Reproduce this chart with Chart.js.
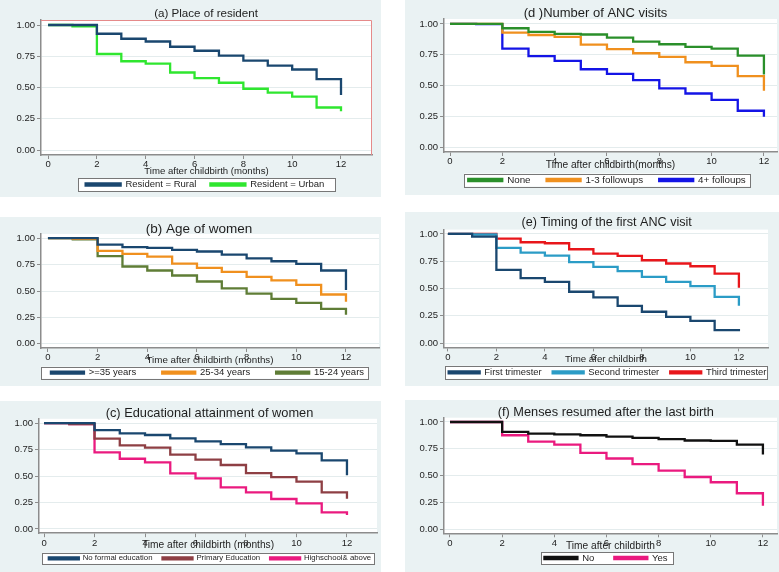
<!DOCTYPE html>
<html>
<head>
<meta charset="utf-8">
<script src="https://cdn.jsdelivr.net/npm/chart.js@4.4.1/dist/chart.umd.min.js"></script>
<style>
  body { margin: 0; width: 779px; height: 572px; background: #fff; position: relative; overflow: hidden; }
  .panel { position: absolute; background: #eaf2f3; }
  .panel canvas { display: block; }
</style>
</head>
<body>
<div class="panel" style="left:0;top:0;width:381px;height:197px"><canvas id="chartA" width="381" height="197"></canvas></div>
<div class="panel" style="left:405px;top:0;width:374px;height:195px"><canvas id="chartD" width="374" height="195"></canvas></div>
<div class="panel" style="left:0;top:217px;width:381px;height:169px"><canvas id="chartB" width="381" height="169"></canvas></div>
<div class="panel" style="left:405px;top:212px;width:374px;height:174px"><canvas id="chartE" width="374" height="174"></canvas></div>
<div class="panel" style="left:0;top:401px;width:381px;height:171px"><canvas id="chartC" width="381" height="171"></canvas></div>
<div class="panel" style="left:405px;top:400px;width:374px;height:172px"><canvas id="chartF" width="374" height="172"></canvas></div>
<script>
// months after childbirth, tick labels
const months = [0, 1, 2, 3, 4, 5, 6, 7, 8, 9, 10, 11, 12];
const xTicks = [0, 2, 4, 6, 8, 10, 12];
const yTicks = [0, 0.25, 0.5, 0.75, 1];

// (a) place of resident
const rural = [1, 1, 0.93, 0.89, 0.868, 0.826, 0.794, 0.755, 0.715, 0.675, 0.644, 0.567, 0.44];
const urban = [1, 0.99, 0.768, 0.71, 0.691, 0.62, 0.575, 0.538, 0.49, 0.459, 0.427, 0.34, 0.31];

// (d) number of ANC visits
const ancNone = [1, 1, 0.965, 0.935, 0.92, 0.914, 0.889, 0.857, 0.835, 0.814, 0.8, 0.743, 0.59];
const anc13 = [1, 1, 0.93, 0.91, 0.895, 0.832, 0.795, 0.762, 0.732, 0.689, 0.659, 0.576, 0.457];
const anc4 = [1, 0.998, 0.8, 0.738, 0.7, 0.632, 0.595, 0.543, 0.476, 0.435, 0.384, 0.295, 0.246];

// (b) age of women
const age35 = [1, 1, 0.94, 0.915, 0.909, 0.89, 0.874, 0.845, 0.81, 0.782, 0.757, 0.694, 0.51];
const age25 = [1, 0.995, 0.88, 0.852, 0.826, 0.76, 0.719, 0.681, 0.634, 0.6, 0.558, 0.467, 0.397];
const age15 = [1, 0.99, 0.83, 0.732, 0.694, 0.647, 0.59, 0.524, 0.476, 0.426, 0.388, 0.331, 0.274];

// (e) timing of the first ANC visit
const tri1 = [1, 0.976, 0.67, 0.595, 0.56, 0.47, 0.418, 0.341, 0.287, 0.24, 0.204, 0.119, 0.107];
const tri2 = [1, 0.995, 0.872, 0.829, 0.802, 0.741, 0.698, 0.659, 0.607, 0.561, 0.521, 0.424, 0.341];
const tri3 = [1, 1, 0.957, 0.924, 0.915, 0.86, 0.82, 0.799, 0.759, 0.729, 0.704, 0.637, 0.506];

// (c) educational attainment
const eduNone = [1, 1, 0.934, 0.903, 0.887, 0.855, 0.827, 0.8, 0.77, 0.739, 0.714, 0.648, 0.506];
const eduPrim = [1, 0.99, 0.852, 0.789, 0.767, 0.701, 0.654, 0.604, 0.528, 0.49, 0.447, 0.346, 0.286];
const eduHigh = [1, 0.99, 0.723, 0.663, 0.629, 0.525, 0.478, 0.393, 0.346, 0.283, 0.242, 0.157, 0.132];

// (f) menses resumed
const mensNo = [1, 1, 0.907, 0.892, 0.885, 0.876, 0.864, 0.851, 0.839, 0.827, 0.824, 0.789, 0.697];
const mensYes = [1, 1, 0.876, 0.817, 0.789, 0.712, 0.659, 0.607, 0.545, 0.486, 0.437, 0.334, 0.217];

const FONT = '"Liberation Sans", Arial, sans-serif';
const TXT = '#1e1e1e';
const AXIS = '#8c8c8c';
const X_AXIS_H = 16;

// white plot region (+ the thin red frame of panel a)
const plotBg = {
  id: 'plotBg',
  beforeDraw(chart, args, opts) {
    const { ctx, chartArea: a } = chart;
    ctx.save();
    ctx.fillStyle = '#fff';
    ctx.fillRect(a.left, a.top, a.width, a.height);
    ctx.restore();
  },
  beforeDatasetsDraw(chart, args, opts) {
    if (!opts.frame) return;
    const { ctx, chartArea: a } = chart;
    ctx.save();
    ctx.strokeStyle = opts.frame;
    ctx.lineWidth = 1;
    ctx.beginPath();
    ctx.moveTo(a.left, a.top + 0.5);
    ctx.lineTo(a.right - 0.5, a.top + 0.5);
    ctx.lineTo(a.right - 0.5, a.bottom);
    ctx.stroke();
    ctx.restore();
  }
};

// move title / legend where stata puts them
const place = {
  id: 'place',
  afterLayout(chart, args, o) {
    const t = chart.titleBlock;
    if (t && o.titleX != null) {
      const dx = o.titleX - (t.left + t.right) / 2;
      t.left += dx; t.right += dx;
    }
    const lg = chart.legend;
    if (lg && o.legendX != null) {
      const dx = o.legendX - (lg.left + lg.right) / 2;
      const dy = o.legendTop - lg.top;
      lg.left += dx; lg.right += dx;
      lg.top += dy; lg.bottom += dy;
    }
  }
};

// box round the legend
const legendBox = {
  id: 'legendBox',
  beforeDraw(chart, args, opts) {
    const lg = chart.legend;
    if (!lg || !lg.legendHitBoxes.length) return;
    const hb = lg.legendHitBoxes;
    const cy = hb[0].top + hb[0].height / 2;
    const l = opts.x0, r = opts.x1, h = opts.h;
    const ctx = chart.ctx;
    ctx.save();
    ctx.fillStyle = '#fff';
    ctx.fillRect(l, cy - h / 2, r - l, h);
    ctx.strokeStyle = '#777';
    ctx.lineWidth = 1;
    ctx.strokeRect(Math.round(l) + 0.5, Math.round(cy - h / 2) + 0.5, Math.round(r - l), Math.round(h));
    ctx.restore();
  }
};

function kmChart(id, g, title, xTitle, labels, series, colors) {
  const titleLH = g.titleSize * 1.2;
  const xtLH = g.xtSize * 1.2;
  const legendH = g.legendSize + g.legendPad + 10;
  const axisBottom = g.bottom + X_AXIS_H;
  new Chart(document.getElementById(id), {
    type: 'line',
    data: {
      datasets: series.map((s, i) => ({
        label: labels[i],
        data: months.map((m, j) => ({ x: m, y: s[j] })),
        borderColor: colors[i],
        backgroundColor: colors[i],
        borderWidth: 2.3,
        pointRadius: 0,
        stepped: true,
        fill: false
      }))
    },
    options: {
      responsive: false,
      animation: false,
      layout: { padding: { left: 0, right: g.w - g.right, top: 0, bottom: g.h - axisBottom - legendH } },
      plugins: {
        title: {
          display: true, text: title, color: TXT,
          font: { family: FONT, size: g.titleSize, weight: 'normal' },
          padding: { top: g.titleY - titleLH / 2, bottom: g.top - g.titleY - titleLH / 2 }
        },
        legend: {
          position: 'bottom',
          labels: {
            boxWidth: g.boxW, boxHeight: 2, color: TXT, padding: g.legendPad,
            font: { family: FONT, size: g.legendSize }
          }
        },
        tooltip: { enabled: false },
        plotBg: { frame: g.frame },
        place: { titleX: g.titleX, legendX: g.legendX, legendTop: g.legendY - g.legendPad - g.legendSize / 2 },
        legendBox: { x0: g.lbx0, x1: g.lbx1, h: g.lbh }
      },
      scales: {
        x: {
          type: 'linear', min: g.xMin, max: g.xMax,
          afterBuildTicks: s => { s.ticks = xTicks.map(v => ({ value: v })); },
          afterFit: s => { s.height = X_AXIS_H; },
          grid: { drawOnChartArea: false, tickLength: 4, tickColor: AXIS, tickWidth: 1 },
          border: { color: AXIS, width: 1.5 },
          ticks: { color: TXT, font: { family: FONT, size: 9.5 }, padding: 0, maxRotation: 0 },
          title: {
            display: true, text: xTitle, color: TXT,
            font: { family: FONT, size: g.xtSize },
            padding: { top: 0, bottom: axisBottom - g.xTitleY - xtLH / 2 }
          }
        },
        y: {
          min: -0.04, max: 1.04,
          afterBuildTicks: s => { s.ticks = yTicks.map(v => ({ value: v })); },
          afterFit: s => { s.width = g.left; },
          grid: { color: '#e4eced', lineWidth: 1, tickLength: 4, tickColor: AXIS, tickWidth: 1 },
          border: { color: AXIS, width: 1.5 },
          ticks: { color: TXT, font: { family: FONT, size: 9.5 }, padding: 2, callback: v => v.toFixed(2) }
        }
      }
    },
    plugins: [plotBg, place, legendBox]
  });
}

kmChart('chartA',
  { w: 381, h: 197, left: 41, right: 372, top: 20, bottom: 155, xMin: -0.29, xMax: 13.27,
    titleX: 206, titleY: 14, titleSize: 11.6, xTitleY: 171, xtSize: 9.6,
    legendX: 205, legendY: 184.5, legendSize: 9.5, legendPad: 14, boxW: 35,
    lbx0: 78, lbx1: 335, lbh: 13, frame: '#e58a8a' },
  '(a) Place of resident', 'Time after childbirth (months)',
  ['Resident = Rural', 'Resident = Urban'], [rural, urban], ['#1a476f', '#2fe62f']);

kmChart('chartD',
  { w: 374, h: 195, left: 39, right: 372, top: 19, bottom: 152, xMin: -0.23, xMax: 12.5,
    titleX: 190.5, titleY: 13, titleSize: 13, xTitleY: 165, xtSize: 10.2,
    legendX: 202, legendY: 180, legendSize: 9.8, legendPad: 16, boxW: 34,
    lbx0: 59, lbx1: 345, lbh: 13 },
  '(d )Number of ANC visits', 'Time after childbirth(months)',
  ['None', '1-3 followups', '4+ folloups'], [ancNone, anc13, anc4], ['#2a8f2a', '#f0901e', '#1414e6']);

kmChart('chartB',
  { w: 381, h: 169, left: 41, right: 379, top: 17, bottom: 131, xMin: -0.28, xMax: 13.33,
    titleX: 199, titleY: 12, titleSize: 13.5, xTitleY: 143.7, xtSize: 9.8,
    legendX: 207.5, legendY: 155.7, legendSize: 9.5, legendPad: 26, boxW: 33,
    lbx0: 41, lbx1: 368, lbh: 12 },
  '(b) Age of women', 'Time after childbirth (months)',
  ['>=35 years', '25-34 years', '15-24 years'], [age35, age25, age15], ['#1a476f', '#f0901e', '#5f7d36']);

kmChart('chartE',
  { w: 374, h: 174, left: 39, right: 363, top: 17.6, bottom: 135.4, xMin: -0.16, xMax: 13.2,
    titleX: 201.7, titleY: 11, titleSize: 12.6, xTitleY: 147, xtSize: 9.7,
    legendX: 202.5, legendY: 160.3, legendSize: 9.4, legendPad: 11, boxW: 31,
    lbx0: 40, lbx1: 362, lbh: 13 },
  '(e) Timing of the first ANC visit', 'Time afer childbirth',
  ['First trimester', 'Second trimester', 'Third trimester'], [tri1, tri2, tri3], ['#1a476f', '#2b9cc6', '#e8161b']);

kmChart('chartC',
  { w: 381, h: 171, left: 39, right: 377, top: 17.8, bottom: 132.2, xMin: -0.2, xMax: 13.19,
    titleX: 209.5, titleY: 12, titleSize: 12.8, xTitleY: 144, xtSize: 10.2,
    legendX: 210, legendY: 157.3, legendSize: 7.8, legendPad: 10, boxW: 30,
    lbx0: 42, lbx1: 374, lbh: 11 },
  '(c) Educational attainment of women', 'Time after childbirth (months)',
  ['No formal education', 'Primary Education', 'Highschool& above'], [eduNone, eduPrim, eduHigh], ['#1a476f', '#8e3f44', '#ea1a7f']);

kmChart('chartF',
  { w: 374, h: 172, left: 39, right: 372, top: 17.7, bottom: 133.3, xMin: -0.23, xMax: 12.54,
    titleX: 200.8, titleY: 12.5, titleSize: 12.8, xTitleY: 146, xtSize: 10.2,
    legendX: 201, legendY: 158, legendSize: 9.5, legendPad: 20, boxW: 33,
    lbx0: 136, lbx1: 268, lbh: 12 },
  '(f) Menses resumed after the last birth', 'Time after childbirth',
  ['No', 'Yes'], [mensNo, mensYes], ['#111111', '#ea1a7f']);
</script>
</body>
</html>
